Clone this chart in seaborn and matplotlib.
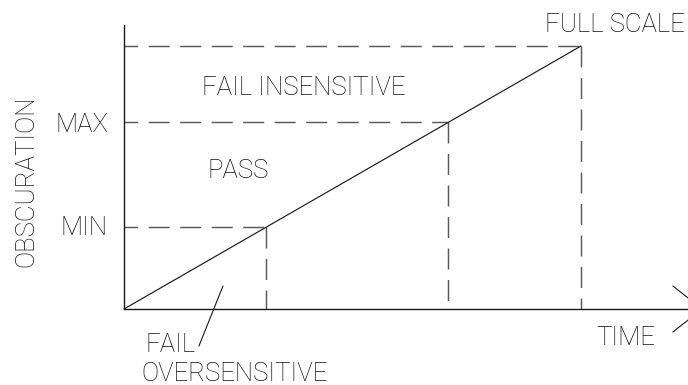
import matplotlib
matplotlib.use("Agg")
import matplotlib.pyplot as plt
import seaborn as sns
import pandas as pd

# ---- data (normalised units: full scale = 1.0) ----
time_pts = [0.0, 1.0]
obsc_pts = [0.0, 1.0]
level_names = ["MIN", "MAX", "FULL SCALE"]
level_vals = [0.31, 0.71, 1.0]
y_axis_top = 1.08
x_axis_end = 1.265

sns.set_theme(style="white")
plt.rcParams["font.family"] = ["Roboto", "Liberation Sans", "DejaVu Sans"]

fig = plt.figure(figsize=(6.88, 3.85), dpi=100)
ax = fig.add_axes([0, 0, 1, 1])
ax.set_xlim(-124 / 457, 564 / 457)
ax.set_ylim(-76 / 263, 309 / 263)
ax.axis("off")

ink = "#1a1a1a"
dash_col = "#5a5a5a"
dash = (0, (14.4, 7.2))

# dashed level guides
for v in level_vals:
    ax.plot([0, v], [v, v], color=dash_col, lw=1.05, linestyle=(5.0, (14.4, 7.2)))
    ax.plot([v, v], [v, 0], color=dash_col, lw=1.05, linestyle=dash)

# axes
ax.plot([0, 0], [0, y_axis_top], color=ink, lw=1.0)
ax.plot([0, x_axis_end], [0, 0], color=ink, lw=1.0, clip_on=False)
# open arrowhead at the end of the time axis
ax.plot([1.201, x_axis_end, 1.201], [0.0875, 0, -0.0875], color=ink, lw=0.8, clip_on=False)

# the ramp
df = pd.DataFrame({"time": time_pts, "obscuration": obsc_pts})
sns.lineplot(data=df, x="time", y="obscuration", ax=ax, color=ink, lw=0.85)
ax.set_xlabel("")
ax.set_ylabel("")
ax.set_xlim(-124 / 457, 564 / 457)
ax.set_ylim(-76 / 263, 309 / 263)

# leader for FAIL OVERSENSITIVE
ax.plot([0.2166, 0.164], [0.0875, -0.1407], color=ink, lw=0.8)

fs = 18.5
tkw = dict(color="#111111", fontsize=fs, va="baseline", fontweight="light")
ax.text(1.074, 1.053, "FULL SCALE", ha="center", **tkw)
ax.text(0.394, 0.814, "FAIL INSENSITIVE", ha="center", **tkw)
ax.text(0.249, 0.498, "PASS", ha="center", **tkw)
ax.text(-0.035, 0.673, level_names[1], ha="right", **tkw)
ax.text(-0.035, 0.281, level_names[0], ha="right", **tkw)
ax.text(1.098, -0.137, "TIME", ha="center", **tkw)
ax.text(0.046, -0.163, "FAIL", ha="left", **tkw)
ax.text(0.039, -0.274, "OVERSENSITIVE", ha="left", **tkw)
ax.text(-0.199, 0.487, "OBSCURATION", ha="center", rotation=90,
        rotation_mode="anchor", **tkw)

fig.savefig("out.png", dpi=100, facecolor="white")
